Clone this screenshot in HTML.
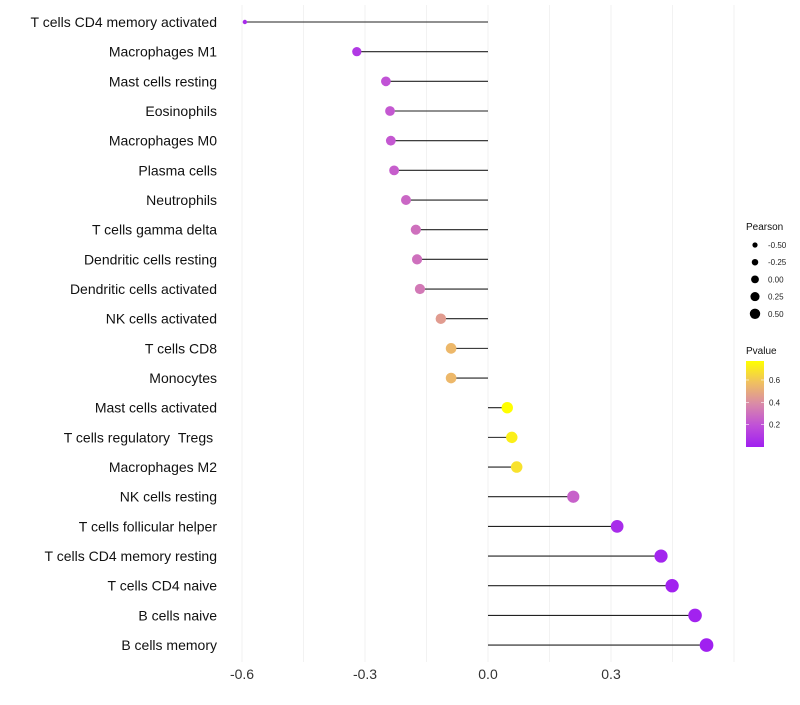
<!DOCTYPE html>
<html><head><meta charset="utf-8"><style>
body{margin:0;background:#fff;font-family:"Liberation Sans",sans-serif}
</style></head><body>
<svg id="chart" width="800" height="700" xmlns="http://www.w3.org/2000/svg">
<g id="grid"></g><g id="marks"></g><g id="ylabels"></g><g id="xlabels"></g><g id="legend"></g>
</svg>
<script>
const categories=["T cells CD4 memory activated","Macrophages M1","Mast cells resting","Eosinophils","Macrophages M0","Plasma cells","Neutrophils","T cells gamma delta","Dendritic cells resting","Dendritic cells activated","NK cells activated","T cells CD8","Monocytes","Mast cells activated","T cells regulatory\u00a0\u00a0Tregs\u00a0","Macrophages M2","NK cells resting","T cells follicular helper","T cells CD4 memory resting","T cells CD4 naive","B cells naive","B cells memory"];
const pearson=[-0.593,-0.32,-0.249,-0.239,-0.237,-0.229,-0.2,-0.176,-0.173,-0.166,-0.115,-0.09,-0.09,0.047,0.058,0.07,0.208,0.315,0.422,0.449,0.505,0.533];
const pvalue=[0.05,0.1,0.2,0.22,0.22,0.24,0.27,0.3,0.3,0.33,0.45,0.55,0.55,0.77,0.72,0.68,0.25,0.05,0.02,0.01,0.01,0.0];
const xTicks=[-0.6,-0.3,0.0,0.3];
const xTickLabels=["-0.6","-0.3","0.0","0.3"];
const sizeLegendValues=[-0.5,-0.25,0,0.25,0.5];
const sizeLegendLabels=["-0.50","-0.25","0.00","0.25","0.50"];
const pLegendTicks=[0.2,0.4,0.6];

const NS="http://www.w3.org/2000/svg";
const x=v=>488+v*410;
const y=i=>22+i*29.67;
const r=v=>v<-0.45?2.2:Math.sqrt(Math.max(4,31+30*v));
const pMax=0.77;
const stops=[[0,[160,32,240]],[0.25,[192,80,216]],[0.5,[217,138,168]],[0.75,[240,192,96]],[1,[255,255,0]]];
function col(p){let t=Math.max(0,Math.min(1,p/pMax));for(let k=1;k<stops.length;k++){if(t<=stops[k][0]){const a=stops[k-1],b=stops[k],f=(t-a[0])/(b[0]-a[0]);return "rgb("+a[1].map((c,j)=>Math.round(c+(b[1][j]-c)*f)).join(",")+")";}}return "rgb(255,255,0)";}
function mk(tag,attrs,parent){const e=document.createElementNS(NS,tag);for(const k in attrs)e.setAttribute(k,attrs[k]);parent.appendChild(e);return e;}
const grid=document.getElementById('grid'),marks=document.getElementById('marks'),yl=document.getElementById('ylabels'),xl=document.getElementById('xlabels'),lg=document.getElementById('legend');
for(let v=-0.6;v<=0.66;v+=0.15){const g=mk('line',{x1:x(v),x2:x(v),y1:5,y2:662,stroke:'#f2f2f2','stroke-width':1},grid);

}
categories.forEach((c,i)=>{
 const ln=mk('line',{x1:x(0),x2:x(pearson[i]),y1:y(i),y2:y(i),stroke:'#222','stroke-width':1.1},marks);
 
 
 const pt=mk('circle',{cx:x(pearson[i]),cy:y(i),r:r(pearson[i]),fill:col(pvalue[i])},marks);
 
 
 const t=mk('text',{x:217,y:y(i)+5,'text-anchor':'end','font-size':14,fill:'#111'},yl);t.textContent=c;
 
 
});
xTicks.forEach((v,i)=>{const t=mk('text',{x:x(v),y:679,'text-anchor':'middle','font-size':14,fill:'#333'},xl);t.textContent=xTickLabels[i];

});
const lt=mk('text',{x:746,y:230,'font-size':10,fill:'#111'},lg);lt.textContent="Pearson";


sizeLegendValues.forEach((v,i)=>{const cy=245+i*17.2;
 const c=mk('circle',{cx:755,cy:cy,r:2.6+(v+0.5)*2.6,fill:'#000'},lg);
 
 
 const t=mk('text',{x:768,y:cy+3,'font-size':8,fill:'#222'},lg);t.textContent=sizeLegendLabels[i];
 
 });
const pt2=mk('text',{x:746,y:354,'font-size':10,fill:'#111'},lg);pt2.textContent="Pvalue";


const defs=mk('defs',{},lg);const gr=mk('linearGradient',{id:'pg',x1:0,y1:1,x2:0,y2:0},defs);
stops.forEach(s=>mk('stop',{offset:s[0],'stop-color':'rgb('+s[1].join(',')+')'},gr));
const bar=mk('rect',{x:746,y:361,width:18,height:86,fill:'url(#pg)'},lg);


const py=p=>447-p/pMax*86;
pLegendTicks.forEach(p=>{mk('line',{x1:746,x2:749,y1:py(p),y2:py(p),stroke:'#fff','stroke-width':0.6},lg);mk('line',{x1:761,x2:764,y1:py(p),y2:py(p),stroke:'#fff','stroke-width':0.6},lg);
 const t=mk('text',{x:769,y:py(p)+3,'font-size':8,fill:'#222'},lg);t.textContent=p.toFixed(1);
 
 });
</script>
</body></html>
